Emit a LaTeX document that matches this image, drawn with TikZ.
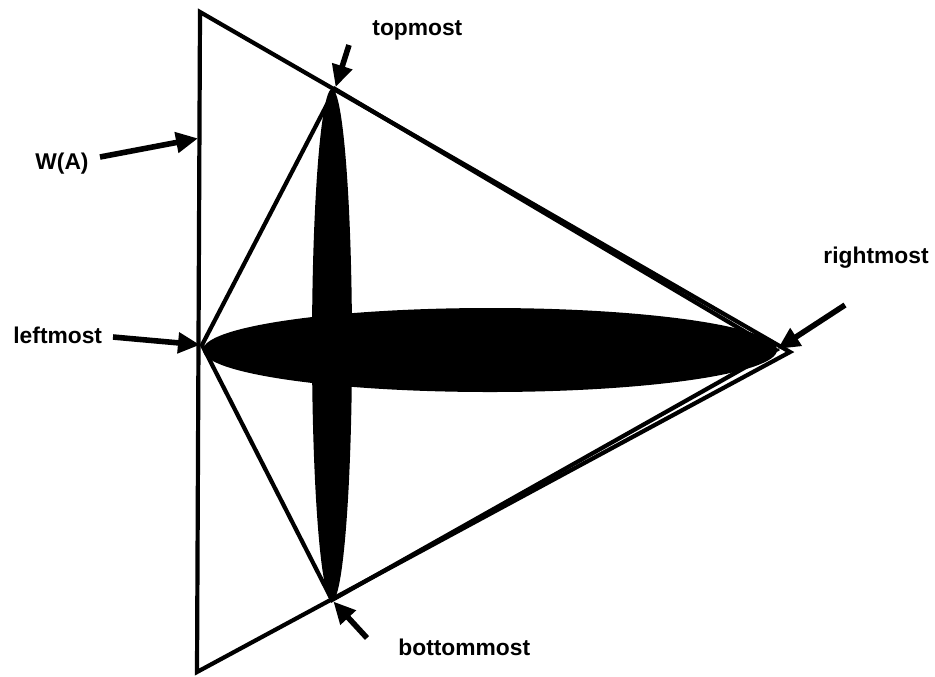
\documentclass[tikz,border=0pt]{standalone}
\usepackage{fontspec}
\setmainfont{Liberation Sans}
\usetikzlibrary{arrows.meta}
\tikzset{
  edge/.style={line width=2.1pt, line join=miter},
  blob/.style={fill=black},
  lbl/.style={font=\bfseries\fontsize{11.4}{13}\selectfont, inner sep=0pt, anchor=base west},
  ptr/.style={-{Triangle[length=11pt,width=10pt]}, line width=2.8pt, shorten >=1pt},
}

\begin{document}
\begin{tikzpicture}[x=0.5pt,y=-0.5pt]
  \useasboundingbox (0,0) rectangle (935,676);
  % extreme points of A
  \coordinate (L) at (202,345);
  \coordinate (T) at (335,89);
  \coordinate (R) at (776,350);
  \coordinate (B) at (332,600);
  % corners of W(A)
  \coordinate (wTop) at (200,12);
  \coordinate (wBot) at (197,672);
  \coordinate (wApex) at (790,352);
  \coordinate (wHit) at (200,138);
  % the two ellipses
  \fill[blob] (490,350) ellipse [x radius=287, y radius=42];
  \fill[blob] (332,345) ellipse [x radius=20, y radius=256];
  % hull and wedge
  \draw[edge] (L) -- (T) -- (R) -- (B) -- cycle;
  \draw[edge] (wTop) -- (wBot) -- (wApex) -- cycle;
  % labels
  \node[lbl] (wa) at (35,169) {W(A)};
  \node[lbl] (lm) at (13,343) {leftmost};
  \node[lbl] (tm) at (372,35) {topmost};
  \node[lbl] (bm) at (398,655) {bottommost};
  \node[lbl, anchor=base east] (rm) at (929,263) {rightmost};
  % arrow tails
  \coordinate (waTail) at (100,157);
  \coordinate (lmTail) at (113,337);
  \coordinate (tmTail) at (349,45);
  \coordinate (bmTail) at (367,638);
  \coordinate (rmTail) at (845,305);
  \draw[ptr] (waTail) -- (wHit);
  \draw[ptr] (lmTail) -- (L);
  \draw[ptr] (tmTail) -- (T);
  \draw[ptr] (bmTail) -- (B);
  \draw[ptr] (rmTail) -- (R);
\end{tikzpicture}
\end{document}
